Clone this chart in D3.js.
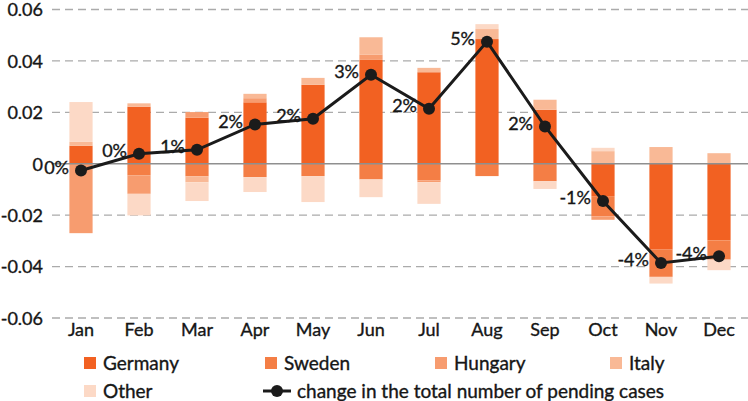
<!DOCTYPE html>
<html>
<head>
<meta charset="utf-8">
<script src="https://cdn.jsdelivr.net/npm/d3@7"></script>
<style>
  body { margin: 0; background: #fff; }
  svg text { font-family: Lato, "Open Sans", sans-serif; fill: #161616; stroke: #161616; stroke-width: 0.35px; }
</style>
</head>
<body>
<div id="chart"></div>
<script>
var months = ['Jan', 'Feb', 'Mar', 'Apr', 'May', 'Jun', 'Jul', 'Aug', 'Sep', 'Oct', 'Nov', 'Dec'];
var germany = [0.0070, 0.0222, 0.0179, 0.0239, 0.0307, 0.0404, 0.0356, 0.0485, 0.0210, -0.0126, -0.0334, -0.0298];
var sweden  = [0, -0.0045, -0.0049, -0.0052, -0.0048, -0.0061, -0.0065, -0.0048, -0.0068, -0.0079, -0.0106, -0.0075];
var hungary = [-0.0270, -0.0072, 0.0022, 0.0016, 0, 0.0021, -0.0007, 0, 0, -0.0013, 0, 0];
var italy   = [0.0015, 0.0013, -0.0023, 0.0017, 0.0027, 0.0067, 0.0017, 0.0039, 0.0039, 0.0049, 0.0065, 0.0041];
var other   = [0.0155, -0.0084, -0.0073, -0.0058, -0.0101, -0.0069, -0.0084, 0.0019, -0.0030, 0.0013, -0.0026, -0.0041];
var pendingChange = [-0.0026, 0.0039, 0.0054, 0.0153, 0.0175, 0.0346, 0.0214, 0.0475, 0.0145, -0.0145, -0.0386, -0.0360];
var changeLabels = ['0%', '0%', '1%', '2%', '2%', '3%', '2%', '5%', '2%', '-1%', '-4%', '-4%'];
var yTicks = [0.06, 0.04, 0.02, 0, -0.02, -0.04, -0.06];
var yTickLabels = ['0.06', '0.04', '0.02', '0', '-0.02', '-0.04', '-0.06'];

var seriesNames = ['Germany', 'Sweden', 'Hungary', 'Italy', 'Other'];
var seriesValues = [germany, sweden, hungary, italy, other];
var colors = ['#f26122', '#f47e45', '#f79c6f', '#f9b996', '#fcd9c6'];

var w = 748, h = 401;
var svg = d3.select('#chart').append('svg')
  .attr('width', w)
  .attr('height', h);

var x = d3.scaleBand()
  .domain(months)
  .range([52, 748])
  .paddingInner(0.6)
  .paddingOuter(0.3);

var y = d3.scaleLinear()
  .domain([-0.06, 0.06])
  .range([318, 9.5]);

// rows for d3.stack
var rows = months.map(function(m, i) {
  var r = { month: m };
  seriesNames.forEach(function(s, j) { r[s] = seriesValues[j][i]; });
  return r;
});

var stacked = d3.stack()
  .keys(seriesNames)
  .offset(d3.stackOffsetDiverging)(rows);

// gridlines
svg.append('g').selectAll('line')
  .data(yTicks.filter(function(t) { return t !== 0; }))
  .enter().append('line')
  .attr('x1', 52).attr('x2', w)
  .attr('y1', function(d) { return y(d); })
  .attr('y2', function(d) { return y(d); })
  .attr('stroke', '#ababab')
  .attr('stroke-width', 1.3)
  .attr('stroke-dasharray', '8,5');

// y labels
svg.append('g').selectAll('text')
  .data(yTicks)
  .enter().append('text')
  .attr('x', 43)
  .attr('y', function(d) { return y(d); })
  .attr('dy', '0.38em')
  .attr('text-anchor', 'end')
  .style('font-size', '18px')
  .text(function(d, i) { return yTickLabels[i]; });

// bars
svg.append('g').selectAll('g')
  .data(stacked)
  .enter().append('g')
  .attr('fill', function(d, i) { return colors[i]; })
  .selectAll('rect')
  .data(function(d) { return d; })
  .enter().append('rect')
  .attr('x', function(d) { return x(d.data.month); })
  .attr('width', x.bandwidth())
  .attr('y', function(d) { return y(Math.max(d[0], d[1])); })
  .attr('height', function(d) { return Math.abs(y(d[0]) - y(d[1])); });

// zero line
svg.append('line')
  .attr('x1', 52).attr('x2', w)
  .attr('y1', y(0)).attr('y2', y(0))
  .attr('stroke', '#8f8f8f')
  .attr('stroke-width', 1.5);

// month labels
svg.append('g').selectAll('text')
  .data(months)
  .enter().append('text')
  .attr('x', function(d) { return x(d) + x.bandwidth() / 2; })
  .attr('y', 336)
  .attr('text-anchor', 'middle')
  .style('font-size', '18px')
  .text(function(d) { return d; });

// total line
var cx = function(d, i) { return x(months[i]) + x.bandwidth() / 2; };
var line = d3.line()
  .x(cx)
  .y(function(d) { return y(d); });

svg.append('path')
  .datum(pendingChange)
  .attr('d', line)
  .attr('fill', 'none')
  .attr('stroke', '#1b1b1b')
  .attr('stroke-width', 3);

svg.append('g').selectAll('circle')
  .data(pendingChange)
  .enter().append('circle')
  .attr('cx', cx)
  .attr('cy', function(d) { return y(d); })
  .attr('r', 6)
  .attr('fill', '#1b1b1b');

svg.append('g').selectAll('text')
  .data(pendingChange)
  .enter().append('text')
  .attr('x', function(d, i) { return cx(d, i) - 12; })
  .attr('y', function(d) { return y(d) - 3; })
  .attr('dy', '0.35em')
  .attr('text-anchor', 'end')
  .style('font-size', '18px')
  .text(function(d, i) { return changeLabels[i]; });

// legend
var legend = svg.append('g');
var legX = [84, 265, 435, 610, 84];
var legY = [363, 363, 363, 363, 391];
seriesNames.forEach(function(s, i) {
  legend.append('rect')
    .attr('x', legX[i]).attr('y', legY[i] - 6)
    .attr('width', 12).attr('height', 12)
    .attr('fill', colors[i]);
  legend.append('text')
    .attr('x', legX[i] + 19).attr('y', legY[i])
    .attr('dy', '0.35em')
    .style('font-size', '19px')
    .text(s);
});
legend.append('line')
  .attr('x1', 263).attr('x2', 291)
  .attr('y1', 391).attr('y2', 391)
  .attr('stroke', '#1b1b1b')
  .attr('stroke-width', 3);
legend.append('circle')
  .attr('cx', 277).attr('cy', 391).attr('r', 6)
  .attr('fill', '#1b1b1b');
legend.append('text')
  .attr('x', 297).attr('y', 391)
  .attr('dy', '0.35em')
  .style('font-size', '19px')
  .text('change in the total number of pending cases');
</script>
</body>
</html>
